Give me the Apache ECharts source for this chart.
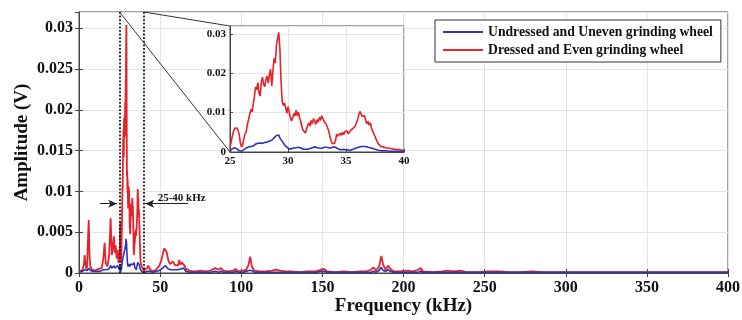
<!DOCTYPE html>
<html>
<head>
<meta charset="utf-8">
<script src="https://cdn.jsdelivr.net/npm/echarts@6/dist/echarts.min.js"></script>
<style>
html, body { margin: 0; padding: 0; background: #fff; }
#chart { width: 742px; height: 320px; }
</style>
</head>
<body>
<div id="chart"></div>
<script>
// names
var nameUneven = 'Undressed and Uneven grinding wheel';
var nameEven = 'Dressed and Even grinding wheel';

// 0 - 25 kHz
var lowFreq = [0, 1, 2, 3, 3.5, 4, 4.5, 5, 5.5, 6, 6.5, 7, 8, 9, 10, 11, 12, 13, 14, 15, 15.8, 16.5, 17.5, 18.5, 19.5, 20.2, 20.8, 21.5, 22, 22.6, 23.2, 23.8, 24.4];
var lowEven = [0.0003, 0.0004, 0.0003, 0.0010, 0.0022, 0.0012, 0.0005, 0.0008, 0.0040, 0.0065, 0.0020, 0.0008, 0.0004, 0.0005, 0.0003, 0.0004, 0.0005, 0.0004, 0.0006, 0.0018, 0.0037, 0.0012, 0.0008, 0.0020, 0.0067, 0.0022, 0.0030, 0.0045, 0.0025, 0.0034, 0.0018, 0.0028, 0.0012];
var lowUneven = [0.0001, 0.0002, 0.0002, 0.0003, 0.0004, 0.0003, 0.0002, 0.0003, 0.0004, 0.0006, 0.0004, 0.0003, 0.0002, 0.0002, 0.0002, 0.0002, 0.0003, 0.0002, 0.0003, 0.0004, 0.0005, 0.0004, 0.0003, 0.0005, 0.0009, 0.0006, 0.0007, 0.0009, 0.0006, 0.0008, 0.0007, 0.0009, 0.0006];

// 25 - 40 kHz, sampled every 0.1 kHz (also the inset)
var zoomStart = 25;
var zoomStep = 0.1;
var zoomEven = [
  0.0012, 0.0025, 0.0040, 0.0052, 0.0060, 0.0063, 0.0061, 0.0055, 0.0042, 0.0022,
  0.0012, 0.0020, 0.0034, 0.0046, 0.0052, 0.0070, 0.0082, 0.0096, 0.0108, 0.0102,
  0.0121, 0.0140, 0.0165, 0.0158, 0.0176, 0.0150, 0.0142, 0.0178, 0.0190, 0.0172,
  0.0166, 0.0185, 0.0193, 0.0175, 0.0198, 0.0210, 0.0168, 0.0205, 0.0238, 0.0226,
  0.0270, 0.0288, 0.0304, 0.0262, 0.0180, 0.0128, 0.0118, 0.0124, 0.0112, 0.0098,
  0.0115, 0.0102, 0.0088, 0.0079, 0.0086, 0.0098, 0.0092, 0.0106, 0.0092, 0.0101,
  0.0085, 0.0078, 0.0064, 0.0055, 0.0060, 0.0048, 0.0052, 0.0068, 0.0074, 0.0066,
  0.0080, 0.0072, 0.0085, 0.0078, 0.0070, 0.0082, 0.0076, 0.0088, 0.0080, 0.0092,
  0.0085, 0.0078, 0.0082, 0.0070, 0.0062, 0.0055, 0.0042, 0.0030, 0.0022, 0.0024,
  0.0021, 0.0030, 0.0046, 0.0040, 0.0036, 0.0048, 0.0042, 0.0050, 0.0044, 0.0052,
  0.0047, 0.0053, 0.0046, 0.0050, 0.0055, 0.0052, 0.0060, 0.0058, 0.0066, 0.0075,
  0.0082, 0.0094, 0.0103, 0.0098, 0.0090, 0.0085, 0.0092, 0.0080, 0.0072, 0.0078,
  0.0068, 0.0074, 0.0060, 0.0055, 0.0046, 0.0040, 0.0032, 0.0026, 0.0020, 0.0016,
  0.0014, 0.0012, 0.0013, 0.0010, 0.0011, 0.0009, 0.0010, 0.0008, 0.0009, 0.0007,
  0.0008, 0.0006, 0.0007, 0.0005, 0.0006, 0.0005, 0.0006, 0.0004, 0.0005, 0.0003,
  0.0003
];
var zoomUneven = [
  0.0003, 0.0005, 0.0008, 0.0010, 0.0011, 0.0010, 0.0008, 0.0005, 0.0003, 0.0002,
  0.0002, 0.0004, 0.0006, 0.0008, 0.0010, 0.0011, 0.0013, 0.0012, 0.0014, 0.0016,
  0.0015, 0.0018, 0.0020, 0.0019, 0.0022, 0.0020, 0.0023, 0.0025, 0.0022, 0.0026,
  0.0024, 0.0027, 0.0025, 0.0029, 0.0028, 0.0031, 0.0030, 0.0034, 0.0036, 0.0038,
  0.0042, 0.0044, 0.0043, 0.0036, 0.0031, 0.0027, 0.0022, 0.0018, 0.0015, 0.0012,
  0.0010, 0.0008, 0.0007, 0.0008, 0.0009, 0.0010, 0.0009, 0.0011, 0.0010, 0.0012,
  0.0011, 0.0010, 0.0008, 0.0007, 0.0006, 0.0007, 0.0008, 0.0007, 0.0008, 0.0009,
  0.0010, 0.0011, 0.0012, 0.0013, 0.0012, 0.0011, 0.0012, 0.0010, 0.0011, 0.0009,
  0.0010, 0.0012, 0.0011, 0.0012, 0.0010, 0.0011, 0.0009, 0.0010, 0.0012, 0.0013,
  0.0014, 0.0012, 0.0010, 0.0008, 0.0007, 0.0006, 0.0007, 0.0006, 0.0005, 0.0006,
  0.0005, 0.0006, 0.0005, 0.0004, 0.0005, 0.0006, 0.0007, 0.0008, 0.0009, 0.0010,
  0.0011, 0.0012, 0.0013, 0.0014, 0.0015, 0.0014, 0.0015, 0.0014, 0.0013, 0.0012,
  0.0013, 0.0011, 0.0010, 0.0009, 0.0008, 0.0007, 0.0006, 0.0005, 0.0005, 0.0004,
  0.0004, 0.0003, 0.0003, 0.0003, 0.0002, 0.0003, 0.0002, 0.0002, 0.0002, 0.0002,
  0.0002, 0.0002, 0.0001, 0.0002, 0.0001, 0.0002, 0.0001, 0.0001, 0.0001, 0.0001,
  0.0001
];

// 40 - 400 kHz
var highFreq = [40.5, 41, 42, 42.7, 43.5, 44.5, 45.5, 46.5, 47.5, 48.5, 49.5, 50.5, 51.5, 52.5, 53.2, 54, 55, 56, 57, 58, 59, 60, 61, 61.8, 62.5, 63.3, 64.3, 65, 66, 67, 68, 70,
  72, 75, 78, 81, 84, 86, 87.5, 89, 92, 95, 96.5, 98, 101, 103, 104.5, 105.5, 106.5, 108, 111, 115, 119, 121.5, 124, 127, 131, 136, 141, 146, 149, 151, 153, 158, 163, 168, 173, 177,
  180, 181.5, 183, 185, 186.3, 187.5, 189, 190.5, 192, 194, 198, 202, 206, 209, 210.5, 212, 218, 224, 227, 231, 235, 239, 246, 252, 259, 265, 272, 279, 286, 300, 330, 360, 400];
var highEven = [0.0003, 0.0004, 0.0006, 0.0009, 0.0005, 0.0003, 0.0002, 0.0003, 0.0004, 0.0006, 0.0009, 0.0014, 0.0022, 0.0030, 0.0032, 0.0026, 0.0016, 0.0011, 0.0009, 0.0014, 0.0010, 0.0012, 0.0009, 0.0016, 0.0010, 0.0013, 0.0015, 0.0009, 0.0005, 0.0004, 0.0003, 0.0002,
  0.0002, 0.0003, 0.0002, 0.0003, 0.0006, 0.0004, 0.0006, 0.0003, 0.0002, 0.0003, 0.0005, 0.0002, 0.0003, 0.0004, 0.0010, 0.0020, 0.0008, 0.0003, 0.0002, 0.0002, 0.0003, 0.0004, 0.0003, 0.0002, 0.0002, 0.0001, 0.0002, 0.0002, 0.0004, 0.0005, 0.0002, 0.0001, 0.0002, 0.0001, 0.0002, 0.0002,
  0.0004, 0.0007, 0.0003, 0.0008, 0.0021, 0.0010, 0.0004, 0.0009, 0.0005, 0.0002, 0.0002, 0.0003, 0.0002, 0.0004, 0.0006, 0.0002, 0.0001, 0.0002, 0.0003, 0.0002, 0.0003, 0.0001, 0.0001, 0.0002, 0.0002, 0.0001, 0.0001, 0.0002, 0.0001, 0.0001, 0.0001, 0.0001, 0.0001];
var highUneven = [0.0001, 0.0002, 0.0002, 0.0003, 0.0002, 0.0001, 0.0001, 0.0002, 0.0002, 0.0002, 0.0003, 0.0004, 0.0006, 0.0008, 0.0009, 0.0007, 0.0005, 0.0004, 0.0004, 0.0005, 0.0004, 0.0005, 0.0004, 0.0006, 0.0005, 0.0005, 0.0006, 0.0004, 0.0002, 0.0002, 0.0001, 0.0001,
  0.0001, 0.0001, 0.0001, 0.0001, 0.0002, 0.0001, 0.0002, 0.0001, 0.0001, 0.0001, 0.0002, 0.0001, 0.0001, 0.0002, 0.0003, 0.0005, 0.0003, 0.0001, 0.0001, 0.0001, 0.0001, 0.0001, 0.0001, 0.0001, 0.0001, 0.0001, 0.0001, 0.0001, 0.0002, 0.0002, 0.0001, 0.0001, 0.0001, 0.0001, 0.0001, 0.0001,
  0.0001, 0.0002, 0.0001, 0.0003, 0.0007, 0.0003, 0.0002, 0.0004, 0.0002, 0.0001, 0.0001, 0.0001, 0.0001, 0.0001, 0.0002, 0.0001, 0.0001, 0.0001, 0.0001, 0.0001, 0.0001, 0.0001, 0.0001, 0.0001, 0.0001, 0.0001, 0.0001, 0.0001, 0.0001, 0.0001, 0.0001, 0.0001, 0.0001];

// ticks
var mainXTicks = [0, 400, 50];
var mainYTicks = [0, 0.032, 0.005];
var insetXTicks = [25, 40, 5];
var insetYTicks = [0, 0.032, 0.01];

// annotation
var bandLabel = '25-40 kHz';
var bandEdges = [25, 40];

function pairs(fr, vals) {
  return fr.map(function (f, i) { return [f, vals[i]]; });
}
function zoomPairs(vals) {
  return vals.map(function (v, i) { return [+(zoomStart + i * zoomStep).toFixed(1), v]; });
}

var evenZoom = zoomPairs(zoomEven);
var unevenZoom = zoomPairs(zoomUneven);
var evenAll = pairs(lowFreq, lowEven).concat(evenZoom, pairs(highFreq, highEven));
var unevenAll = pairs(lowFreq, lowUneven).concat(unevenZoom, pairs(highFreq, highUneven));

var red = '#e8212b';
var blue = '#2e33b5';
var font = 'Liberation Serif';
var gridColor = '#e4e4e4';

var chart = echarts.init(document.getElementById('chart'), null, { renderer: 'canvas' });

function fmt(v) {
  return String(+v.toFixed(4));
}

var option = {
  animation: false,
  backgroundColor: '#fff',
  textStyle: { fontFamily: font },
  legend: {
    left: 435,
    top: 20,
    orient: 'vertical',
    data: [nameUneven, nameEven],
    icon: 'rect',
    backgroundColor: '#fff',
    borderColor: '#333',
    borderWidth: 1,
    borderRadius: 0,
    padding: [5, 8, 5, 8],
    itemWidth: 40,
    itemHeight: 2,
    itemGap: 4,
    z: 20,
    textStyle: { fontFamily: font, fontWeight: 'bold', fontSize: 13.7, color: '#111' }
  },
  grid: [{
    left: 79, right: 14, top: 12, bottom: 47, outerBoundsMode: 'none',
    show: true, borderColor: '#444', borderWidth: 1
  }, {
    left: 230, width: 174, top: 26, height: 126, outerBoundsMode: 'none',
    show: true, backgroundColor: '#fff', borderColor: '#444', borderWidth: 1, z: 10
  }],
  xAxis: [{
    gridIndex: 0, type: 'value',
    min: mainXTicks[0], max: mainXTicks[1], interval: mainXTicks[2],
    name: 'Frequency (kHz)', nameLocation: 'middle', nameGap: 24, nameMoveOverlap: false,
    nameTextStyle: { fontFamily: font, fontWeight: 'bold', fontSize: 19, color: '#111' },
    axisLine: { lineStyle: { color: '#444' } },
    axisTick: { inside: true, length: 4, lineStyle: { color: '#444' } },
    axisLabel: { fontFamily: font, fontWeight: 'bold', fontSize: 16, color: '#111', margin: 7 },
    splitLine: { lineStyle: { color: gridColor } }
  }, {
    gridIndex: 0, type: 'value', position: 'top',
    min: mainXTicks[0], max: mainXTicks[1], interval: mainXTicks[2],
    axisLine: { lineStyle: { color: '#444' } },
    axisTick: { inside: true, length: 4, lineStyle: { color: '#444' } },
    axisLabel: { show: false },
    splitLine: { show: false }
  }, {
    gridIndex: 1, type: 'value', z: 11,
    min: insetXTicks[0], max: insetXTicks[1], interval: insetXTicks[2],
    axisLine: { lineStyle: { color: '#444' } },
    axisTick: { inside: true, length: 3, lineStyle: { color: '#444' } },
    axisLabel: { fontFamily: font, fontWeight: 'bold', fontSize: 11, color: '#111', margin: 4 },
    splitLine: { lineStyle: { color: gridColor } }
  }],
  yAxis: [{
    gridIndex: 0, type: 'value',
    min: mainYTicks[0], max: mainYTicks[1], interval: mainYTicks[2],
    name: 'Amplitude (V)', nameLocation: 'middle', nameGap: 47, nameRotate: 90, nameMoveOverlap: false,
    nameTextStyle: { fontFamily: font, fontWeight: 'bold', fontSize: 19, color: '#111' },
    axisLine: { show: true, lineStyle: { color: '#444' } },
    axisTick: { show: true, inside: true, length: 4, lineStyle: { color: '#444' } },
    axisLabel: { fontFamily: font, fontWeight: 'bold', fontSize: 16, color: '#111', margin: 6, showMaxLabel: false, formatter: fmt },
    splitLine: { lineStyle: { color: gridColor } }
  }, {
    gridIndex: 0, type: 'value', position: 'right',
    min: mainYTicks[0], max: mainYTicks[1], interval: mainYTicks[2],
    axisLine: { show: true, lineStyle: { color: '#444' } },
    axisTick: { show: true, inside: true, length: 4, lineStyle: { color: '#444' } },
    axisLabel: { show: false },
    splitLine: { show: false }
  }, {
    gridIndex: 1, type: 'value', z: 11,
    min: insetYTicks[0], max: insetYTicks[1], interval: insetYTicks[2],
    axisLine: { show: true, lineStyle: { color: '#444' } },
    axisTick: { show: true, inside: true, length: 3, lineStyle: { color: '#444' } },
    axisLabel: { fontFamily: font, fontWeight: 'bold', fontSize: 11, color: '#111', margin: 4, showMaxLabel: false, formatter: fmt },
    splitLine: { lineStyle: { color: gridColor } }
  }],
  series: [{
    name: nameEven, type: 'line', xAxisIndex: 0, yAxisIndex: 0,
    symbol: 'none', color: red,
    lineStyle: { color: red, width: 1.8 },
    data: evenAll,
    markLine: {
      silent: true,
      symbol: 'none',
      label: { show: false },
      lineStyle: { color: '#111', type: 'dotted', width: 1.8 },
      data: [
        { xAxis: bandEdges[0] },
        { xAxis: bandEdges[1] },
        [{ coord: [13, 0.0085], symbol: 'none', lineStyle: { type: 'solid', width: 1, color: '#222' } },
         { coord: [23.5, 0.0085], symbol: 'arrow', symbolSize: [6, 9] }],
        [{ coord: [67.2, 0.0085], symbol: 'none', lineStyle: { type: 'solid', width: 1, color: '#222' } },
         { coord: [40.8, 0.0085], symbol: 'arrow', symbolSize: [6, 9] }]
      ]
    }
  }, {
    name: nameUneven, type: 'line', xAxisIndex: 0, yAxisIndex: 0,
    symbol: 'none', color: blue,
    lineStyle: { color: blue, width: 1.6 },
    data: unevenAll
  }, {
    name: nameEven, type: 'line', xAxisIndex: 2, yAxisIndex: 2, z: 12,
    symbol: 'none', color: red,
    lineStyle: { color: red, width: 1.6 },
    data: evenZoom
  }, {
    name: nameUneven, type: 'line', xAxisIndex: 2, yAxisIndex: 2, z: 12,
    symbol: 'none', color: blue,
    lineStyle: { color: blue, width: 1.6 },
    data: unevenZoom
  }]
};

chart.setOption(option);

// connector lines from the band to the inset, and the band label
var topLeft = chart.convertToPixel({ gridIndex: 0 }, [bandEdges[0], mainYTicks[1]]);
var topRight = chart.convertToPixel({ gridIndex: 0 }, [bandEdges[1], mainYTicks[1]]);
var insetBottom = chart.convertToPixel({ gridIndex: 1 }, [insetXTicks[0], insetYTicks[0]]);
var insetTop = chart.convertToPixel({ gridIndex: 1 }, [insetXTicks[0], insetYTicks[1]]);
var labelPos = chart.convertToPixel({ gridIndex: 0 }, [48.5, 0.0092]);

chart.setOption({
  graphic: [{
    type: 'line', z: 15, silent: true,
    shape: { x1: topLeft[0], y1: topLeft[1], x2: insetBottom[0], y2: insetBottom[1] },
    style: { stroke: '#333', lineWidth: 1 }
  }, {
    type: 'line', z: 15, silent: true,
    shape: { x1: topRight[0], y1: topRight[1], x2: insetTop[0], y2: insetTop[1] },
    style: { stroke: '#333', lineWidth: 1 }
  }, {
    type: 'text', z: 15, silent: true,
    x: labelPos[0], y: labelPos[1],
    style: {
      text: bandLabel, fill: '#111', font: 'bold 11px "Liberation Serif"',
      textAlign: 'left', textVerticalAlign: 'middle'
    }
  }]
});
</script>
</body>
</html>
